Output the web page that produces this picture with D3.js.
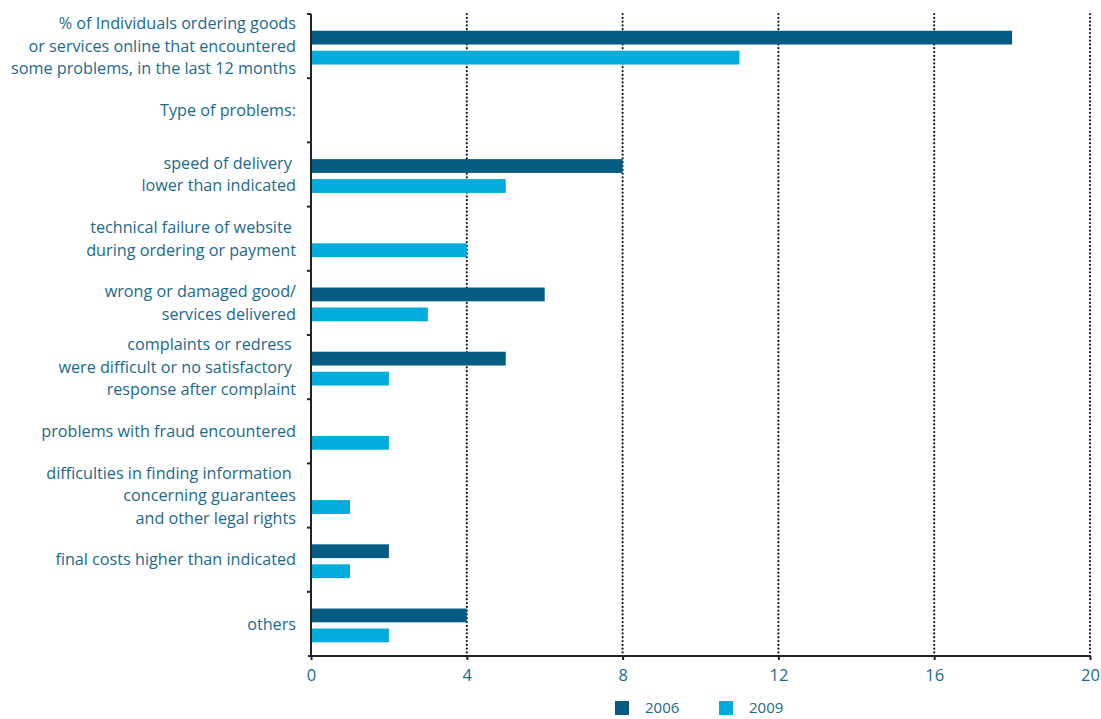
<!DOCTYPE html>
<html>
<head>
<meta charset="utf-8">
<script src="https://cdn.jsdelivr.net/npm/d3@7"></script>
<style>
  body { margin: 0; background: #fff; }
  svg text { font-family: "Open Sans", sans-serif; fill: #1b6a8e; white-space: pre; }
</style>
</head>
<body>
<svg id="viz"></svg>
<script>
// Category labels (each entry is a list of lines)
const categories = [
  ["% of Individuals ordering goods", "or services online that encountered", "some problems, in the last 12 months"],
  ["Type of problems:"],
  ["speed of delivery ", "lower than indicated"],
  ["technical failure of website ", "during ordering or payment"],
  ["wrong or damaged good/", "services delivered"],
  ["complaints or redress ", "were difficult or no satisfactory ", "response after complaint"],
  ["problems with fraud encountered"],
  ["difficulties in finding information ", "concerning guarantees", "and other legal rights"],
  ["final costs higher than indicated"],
  ["others"],
];

const values2006 = [18, null, 8, null, 6, 5, null, null, 2, 4];
const values2009 = [11, null, 5, 4, 3, 2, 2, 1, 1, 2];

const seriesNames = ["2006", "2009"];
const seriesColors = ["#045c82", "#00acdc"];
const xTicks = [0, 4, 8, 12, 16, 20];

// Set up dimensions
const width = 1101;
const height = 719;
const margin = { top: 14, right: 11, bottom: 63, left: 311 };

const svg = d3.select("#viz").attr("width", width).attr("height", height);

// Scales
const x = d3
  .scaleLinear()
  .domain([0, 20])
  .range([margin.left, width - margin.right]);

const rows = categories.map((d, i) => i);
const y = d3
  .scaleBand()
  .domain(rows)
  .range([margin.top, height - margin.bottom]);

const ySub = d3
  .scaleBand()
  .domain(seriesNames)
  .range([0, y.bandwidth()])
  .paddingInner(0.31)
  .paddingOuter(0.76)
  .align(0.55);

const color = d3.scaleOrdinal().domain(seriesNames).range(seriesColors);

// Dotted vertical gridlines
svg
  .append("g")
  .selectAll("line")
  .data(xTicks.filter((t) => t > 0))
  .enter()
  .append("line")
  .attr("x1", (d) => x(d))
  .attr("x2", (d) => x(d))
  .attr("y1", margin.top)
  .attr("y2", height - margin.bottom)
  .attr("stroke", "#1a1a1a")
  .attr("stroke-width", 2.2)
  .attr("stroke-linecap", "round")
  .attr("stroke-dasharray", "0.1,3.7");

// Bars
const barData = [];
rows.forEach((i) => {
  if (values2006[i] != null) barData.push({ row: i, series: "2006", value: values2006[i] });
  if (values2009[i] != null) barData.push({ row: i, series: "2009", value: values2009[i] });
});

svg
  .append("g")
  .selectAll("rect")
  .data(barData)
  .enter()
  .append("rect")
  .attr("x", x(0))
  .attr("y", (d) => y(d.row) + ySub(d.series))
  .attr("width", (d) => x(d.value) - x(0))
  .attr("height", ySub.bandwidth())
  .attr("fill", (d) => color(d.series));

// Y axis line with ticks at the band boundaries
const yAxis = svg.append("g");
yAxis
  .append("line")
  .attr("x1", x(0))
  .attr("x2", x(0))
  .attr("y1", margin.top)
  .attr("y2", height - margin.bottom)
  .attr("stroke", "#222")
  .attr("stroke-width", 2);

yAxis
  .selectAll(".ytick")
  .data(rows)
  .enter()
  .append("line")
  .attr("x1", x(0) - 4)
  .attr("x2", x(0))
  .attr("y1", (d) => y(d))
  .attr("y2", (d) => y(d))
  .attr("stroke", "#222")
  .attr("stroke-width", 2);

// Category labels
const labels = svg
  .append("g")
  .selectAll("text")
  .data(categories)
  .enter()
  .append("text")
  .attr("text-anchor", "end")
  .attr("font-size", 16.2);

labels
  .selectAll("tspan")
  .data((d, i) => d.map((line, j) => ({ line, j, n: d.length, row: i })))
  .enter()
  .append("tspan")
  .attr("x", 296)
  .attr("y", (d) => y(d.row) + y.bandwidth() / 2 + (d.j - (d.n - 1) / 2) * 22.5)
  .attr("dy", "0.35em")
  .text((d) => d.line);

// X axis
const xAxis = svg
  .append("g")
  .attr("transform", `translate(0,${height - margin.bottom})`)
  .call(d3.axisBottom(x).tickValues(xTicks).tickSize(4).tickPadding(9).tickSizeOuter(0));

xAxis.select(".domain").attr("stroke", "#222").attr("stroke-width", 2).attr("d", `M${x(0) - 3},0H${x(20) + 1}`);
xAxis.selectAll(".tick line").attr("stroke", "#222").attr("stroke-width", 2);
xAxis
  .selectAll(".tick text")
  .attr("font-size", 16.5)
  .attr("font-family", "Open Sans, sans-serif")
  .attr("fill", "#1b6a8e");

// Legend
const legend = svg
  .append("g")
  .selectAll("g")
  .data(seriesNames)
  .enter()
  .append("g")
  .attr("transform", (d, i) => `translate(${615 + i * 104},701)`);

legend
  .append("rect")
  .attr("width", 14)
  .attr("height", 14)
  .attr("fill", (d) => color(d));

legend
  .append("text")
  .attr("x", 30)
  .attr("y", 7)
  .attr("dy", "0.35em")
  .attr("font-size", 15)
  .text((d) => d);
</script>
</body>
</html>
